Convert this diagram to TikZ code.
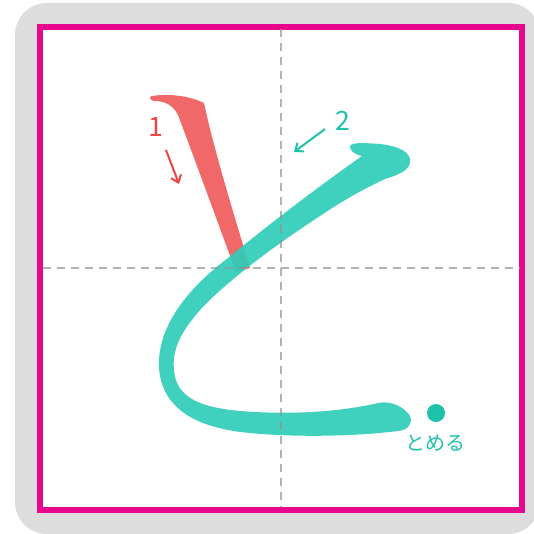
\documentclass[tikz,border=0pt]{standalone}
\usepackage{fontspec}
\usepackage{xcolor}
\usepackage{tikz}
\usetikzlibrary{arrows.meta,positioning}
\newfontfamily\jp{Noto Sans CJK JP}
\definecolor{bggray}{HTML}{DDDDDD}
\definecolor{frame}{HTML}{E8068C}
\definecolor{strokeone}{HTML}{F06868}
\definecolor{stroketwo}{HTML}{2FCDB9}
\definecolor{stopdot}{HTML}{1EC2AA}
\definecolor{numone}{HTML}{EE4444}
\definecolor{numtwo}{HTML}{1EC2AA}
\tikzset{
  guide/.style={draw=gray!85, line width=1.1pt, dash pattern=on 6pt off 4.5pt},
  num/.style={font=\jp\fontsize{20}{20}\selectfont, inner sep=0pt},
  note/.style={font=\jp\fontsize{15}{15}\selectfont, inner sep=0pt, text=numtwo},
  arr/.style={-{Straight Barb[length=5pt,width=8pt]}, line width=1.5pt}
}
\begin{document}
\begin{tikzpicture}[x=0.75pt,y=-0.75pt]
  \useasboundingbox (0,0) rectangle (533,534);
  % sheet and frame
  \fill[bggray, rounded corners=24pt] (15,3) rectangle (540,534);
  \draw[frame, fill=white, line width=4.5pt] (40,27) rectangle (522,509.5);
  % stroke 1
  \fill[strokeone] (152,96) .. controls (172,93) and (192,97) .. (204,103)
    .. controls (214,150) and (234,215) .. (250,268) -- (236,272)
    .. controls (215,215) and (195,160) .. (178,115)
    .. controls (172,103) and (162,101) .. (154,101)
    .. controls (149,100) and (149,96) .. (152,96) -- cycle;
  % stroke 2
  \fill[stroketwo, fill opacity=0.92] (350,146) .. controls (352,142) and (365,143) .. (380,144)
    .. controls (398,146) and (412,152) .. (410,163)
    .. controls (408,171) and (398,175) .. (385,179)
    .. controls (357,192) and (336,205) .. (311,222)
    .. controls (270,249) and (225,283) .. (200,310)
    .. controls (180,333) and (172,350) .. (174,370)
    .. controls (176,395) and (195,407) .. (240,411)
    .. controls (290,415) and (340,412) .. (378,403)
    .. controls (392,400) and (405,408) .. (410,416)
    .. controls (413,424) and (408,430) .. (398,431)
    .. controls (350,437) and (290,437) .. (250,433)
    .. controls (195,428) and (162,408) .. (159,368)
    .. controls (157,330) and (183,292) .. (228,258)
    .. controls (268,225) and (318,187) .. (362,156)
    .. controls (356,155) and (349,151) .. (350,146) -- cycle;
  % guide lines
  \draw[guide, draw opacity=0.7] (42.5,268) -- (519.5,268);
  \draw[guide, draw opacity=0.7] (281,29.5) -- (281,507);
  % order numbers
  \node[num, text=numone] (n1) at (156,127) {1};
  \coordinate (a1s) at (166,150);
  \coordinate (a1e) at (179,184);
  \draw[arr, numone] (a1s) -- (a1e);
  \node[num, text=numtwo] (n2) at (343,121) {2};
  \coordinate (a2s) at (325,129);
  \coordinate (a2e) at (294,152);
  \draw[arr, numtwo] (a2s) -- (a2e);
  % stop mark
  \fill[stopdot] (436,413) circle (6.75pt);
  \node[note] (stop) at (435,443) {とめる};
\end{tikzpicture}
\end{document}
